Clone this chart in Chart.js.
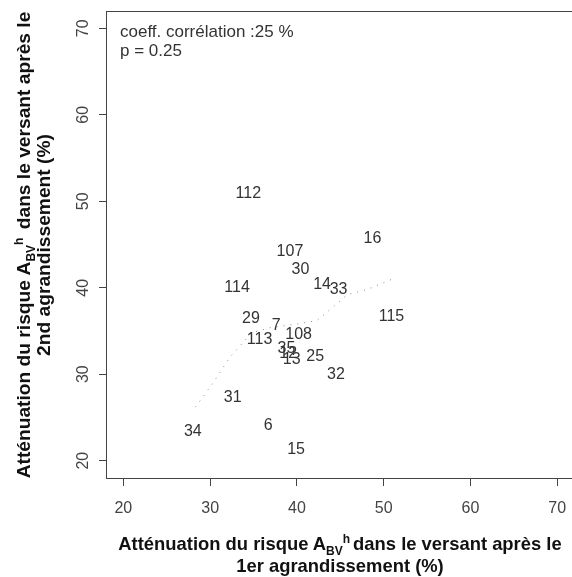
<!DOCTYPE html>
<html>
<head>
<meta charset="utf-8">
<script src="https://cdn.jsdelivr.net/npm/chart.js@4/dist/chart.umd.min.js"></script>
<style>
html, body { margin: 0; padding: 0; overflow: hidden; background: #fff; }
#wrap { position: relative; width: 580px; height: 577px; }
#chart { position: absolute; left: 0; top: 0; }
.title { position: absolute; font: bold 18.4px "Liberation Sans", Arial, sans-serif; color: #111; text-align: center; line-height: 22px; white-space: nowrap; }
.sub, .sup { font-size: 12px; position: relative; line-height: 0; }
.sub { top: 5px; }
.sup { top: -7px; margin-right: 3px; }
#xtitle { left: 106px; width: 468px; top: 533px; }
#ytitle { left: -200.5px; top: 224.5px; width: 468px; font-size: 19.2px; line-height: 20px; transform: rotate(-90deg); }
</style>
</head>
<body>
<div id="wrap">
  <canvas id="chart" width="580" height="577"></canvas>
  <div class="title" id="xtitle">Atténuation du risque A<span class="sub">BV</span><span class="sup">h</span>dans le versant après le<br>1er agrandissement (%)</div>
  <div class="title" id="ytitle">Atténuation du risque A<span class="sub">BV</span><span class="sup">h</span> dans le versant après le<br>2nd agrandissement (%)</div>
</div>
<script>
// site numbers and attenuation after 1st / 2nd enlargement (%)
const sites = ['112', '16', '107', '30', '114', '14', '33', '115', '29', '7', '108',
               '113', '35', '12', '13', '25', '32', '31', '34', '6', '15'];
const firstEnl = [34.4, 48.7, 39.2, 40.4, 33.1, 42.9, 44.8, 50.9, 34.7, 37.6, 40.2,
                  35.7, 38.8, 39.0, 39.4, 42.1, 44.5, 32.6, 28.0, 36.7, 39.9];
const secondEnl = [51.1, 45.9, 44.4, 42.3, 40.2, 40.6, 40.0, 36.9, 36.7, 35.9, 34.8,
                   34.2, 33.2, 32.6, 31.9, 32.3, 30.2, 27.5, 23.6, 24.3, 21.5];

// smoothed trend (dotted)
const smoothX = [28.3, 30.2, 32.3, 34.8, 37.0, 40.0, 42.3, 44.2, 45.8, 48.1, 51.0];
const smoothY = [26.2, 28.8, 32.0, 34.8, 35.4, 35.8, 36.2, 37.8, 39.2, 39.8, 41.0];

const xTicks = [20, 30, 40, 50, 60, 70];
const yTicks = [20, 30, 40, 50, 60, 70];
const notes = ['coeff. corrélation :25 %', 'p = 0.25'];

const FONT = '"Liberation Sans", Arial, sans-serif';

const boxAndLabels = {
    id: 'boxAndLabels',
    afterDatasetsDraw(chart) {
        const ctx = chart.ctx;
        const a = chart.chartArea;
        ctx.save();
        ctx.strokeStyle = '#444';
        ctx.lineWidth = 1;
        ctx.strokeRect(Math.round(a.left) + 0.5, Math.round(a.top) + 0.5,
                       Math.round(a.right - a.left), Math.round(a.bottom - a.top));

        // site numbers centred on their points
        ctx.font = '16px ' + FONT;
        ctx.fillStyle = '#333';
        ctx.textAlign = 'center';
        ctx.textBaseline = 'middle';
        chart.getDatasetMeta(1).data.forEach((pt, i) => {
            ctx.fillText(sites[i], pt.x, pt.y + 2);
        });

        ctx.font = '17px ' + FONT;
        ctx.textAlign = 'left';
        notes.forEach((t, i) => ctx.fillText(t, a.left + 14, a.top + 21 + i * 19.5));
        ctx.restore();
    }
};

const ctx = document.getElementById('chart').getContext('2d');
new Chart(ctx, {
    type: 'scatter',
    data: {
        datasets: [{
            data: smoothX.map((x, i) => ({ x: x, y: smoothY[i] })),
            showLine: true,
            borderColor: '#888',
            borderWidth: 1,
            borderDash: [1, 6],
            pointRadius: 0,
            fill: false
        }, {
            data: firstEnl.map((x, i) => ({ x: x, y: secondEnl[i] })),
            pointRadius: 0,
            showLine: false
        }]
    },
    options: {
        responsive: false,
        animation: false,
        events: [],
        layout: { padding: { left: 0, top: 11, right: 5.4, bottom: 0 } },
        plugins: {
            legend: { display: false },
            tooltip: { enabled: false }
        },
        scales: {
            x: {
                type: 'linear',
                min: 18,
                max: 72,
                afterBuildTicks: scale => { scale.ticks = xTicks.map(v => ({ value: v })); },
                afterFit: scale => { scale.height = 99; scale.paddingLeft = 0; scale.paddingRight = 0; },
                grid: { drawOnChartArea: false, drawTicks: true, tickLength: 8, color: '#444' },
                border: { display: true, color: '#444' },
                ticks: { color: '#444', font: { size: 16, family: FONT }, padding: 13, maxRotation: 0 }
            },
            y: {
                type: 'linear',
                min: 18,
                max: 72,
                afterBuildTicks: scale => { scale.ticks = yTicks.map(v => ({ value: v })); },
                afterFit: scale => { scale.width = 106; scale.paddingTop = 0; scale.paddingBottom = 0; },
                grid: { drawOnChartArea: false, drawTicks: true, tickLength: 7, color: '#444' },
                border: { display: true, color: '#444' },
                ticks: { color: '#444', font: { size: 16, family: FONT }, padding: 7,
                         minRotation: 90, maxRotation: 90, crossAlign: 'center' }
            }
        }
    },
    plugins: [boxAndLabels]
});
</script>
</body>
</html>
